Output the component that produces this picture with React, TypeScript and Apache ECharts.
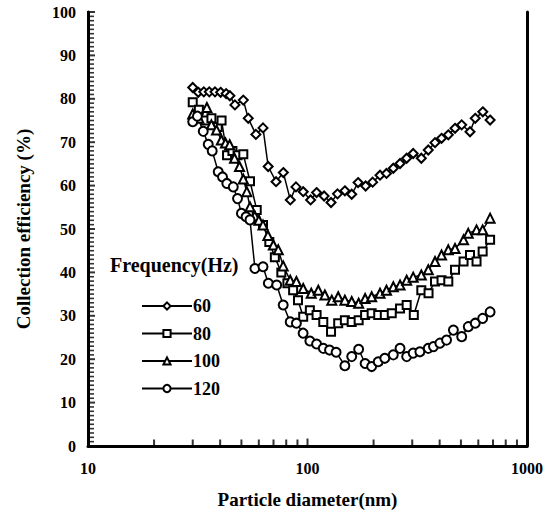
import React, { useEffect, useRef } from "react";
import * as echarts from "echarts";

const seriesNames = ["60", "80", "100", "120"];

const d60 = [30.0, 31.8, 33.7, 35.7, 37.9, 40.2, 42.6, 44.3, 46.7, 51.0, 53.7, 58.2, 62.7, 66.2, 71.9, 77.6, 83.5, 88.6, 95.6, 103.3, 110, 119, 128, 137, 148, 159, 170, 184, 198, 214, 229, 246, 264, 283, 303, 330, 355, 381, 408, 438, 470, 504, 550, 581, 629, 679];
const v60 = [82.6, 81.5, 81.6, 81.6, 81.6, 81.5, 81.2, 80.7, 78.6, 79.7, 75.5, 71.8, 73.3, 64.4, 60.9, 63.0, 56.7, 59.7, 58.6, 56.7, 58.4, 57.6, 56.1, 58.1, 58.8, 58.0, 60.7, 59.9, 60.8, 62.4, 62.8, 64.0, 65.1, 66.3, 67.4, 66.3, 68.2, 69.9, 70.9, 71.7, 73.2, 74.0, 72.4, 75.5, 77.0, 75.1];

const d80 = [30.0, 32.0, 34.2, 36.5, 39.0, 40.6, 43.0, 45.5, 48.0, 51.0, 54.7, 58.7, 62.7, 67.0, 71.0, 76.0, 81.0, 86.0, 90.5, 95.6, 102.5, 110, 118, 128, 138, 148, 159, 171, 183, 196, 210, 225, 242, 264, 283, 305, 330, 356, 381, 408, 438, 470, 514, 550, 589, 628, 679];
const v80 = [79.2, 77.5, 75.0, 75.5, 73.5, 75.0, 67.0, 68.0, 67.0, 67.2, 61.0, 54.4, 50.9, 47.0, 43.5, 40.0, 37.5, 35.9, 33.6, 29.8, 31.3, 30.2, 28.6, 26.3, 28.3, 29.0, 28.6, 29.0, 30.2, 30.6, 30.2, 30.2, 30.6, 31.7, 32.5, 30.2, 35.9, 35.2, 37.9, 38.2, 37.9, 40.6, 42.5, 44.0, 42.5, 44.8, 47.5];

const d100 = [30.0, 32.0, 34.8, 36.5, 38.5, 40.5, 42.3, 44.2, 46.5, 49.0, 51.0, 52.9, 54.7, 57.5, 60.0, 62.7, 66.0, 69.9, 73.6, 77.5, 83.4, 89.0, 95.6, 104, 112, 120, 129, 138, 148, 159, 171, 183, 196, 214, 229, 246, 264, 283, 303, 330, 355, 381, 408, 438, 470, 514, 540, 589, 628, 679];
const v100 = [76.5, 75.5, 78.0, 74.0, 72.8, 70.5, 69.8, 69.4, 66.3, 64.4, 61.5, 58.6, 55.1, 53.0, 52.0, 50.9, 48.5, 46.3, 45.2, 41.5, 38.2, 37.9, 36.3, 35.2, 35.9, 34.8, 33.6, 34.4, 33.6, 33.3, 32.9, 34.0, 34.4, 35.2, 35.9, 36.7, 37.1, 38.2, 38.9, 39.4, 40.6, 42.5, 44.0, 45.2, 45.5, 47.5, 49.0, 49.8, 49.8, 52.5];

const d120 = [30.0, 31.5, 33.5, 35.3, 36.8, 39.2, 41.0, 42.9, 45.9, 48.0, 50.0, 52.5, 54.7, 57.6, 62.7, 66.3, 72.4, 77.5, 83.4, 89.0, 95.5, 102.5, 110, 118, 126, 135, 148, 159, 171, 183, 196, 210, 225, 246, 264, 283, 303, 325, 355, 375, 401, 430, 462, 504, 540, 581, 628, 679];
const v120 = [74.7, 76.0, 72.5, 69.5, 68.0, 63.2, 62.0, 60.5, 59.7, 57.0, 53.6, 52.8, 52.1, 40.9, 41.3, 37.5, 37.1, 32.5, 28.6, 28.3, 26.0, 24.2, 23.5, 22.5, 22.1, 21.6, 18.5, 20.6, 22.3, 19.0, 18.3, 19.4, 20.2, 21.0, 22.5, 20.6, 21.4, 21.7, 22.5, 22.9, 23.7, 24.4, 26.7, 25.2, 27.5, 28.3, 29.4, 30.9];

const xTickValues = [20, 30, 40, 50, 60, 70, 80, 90, 100, 200, 300, 400, 500, 600, 700, 800, 900];
const yTickValues = [0, 1, 2, 3, 4, 5, 6, 7, 8, 9, 10, 11, 12, 13, 14, 15, 16, 17, 18, 19, 20, 21, 22, 23, 24, 25, 26, 27, 28, 29, 30, 31, 32, 33, 34, 35, 36, 37, 38, 39, 40, 41, 42, 43, 44, 45, 46, 47, 48, 49, 50, 51, 52, 53, 54, 55, 56, 57, 58, 59, 60, 61, 62, 63, 64, 65, 66, 67, 68, 69, 70, 71, 72, 73, 74, 75, 76, 77, 78, 79, 80, 81, 82, 83, 84, 85, 86, 87, 88, 89, 90, 91, 92, 93, 94, 95, 96, 97, 98, 99, 100];

const FONT = "'Liberation Serif', 'Times New Roman', serif";

function pairs(d: number[], v: number[]) {
  return d.map((x, i) => [x, v[i]]);
}

export default function App() {
  const ref = useRef<HTMLDivElement>(null);
  useEffect(() => {
    if (!ref.current) return;
    const chart = echarts.init(ref.current, undefined, { renderer: "svg" });
    const symbols = ["diamond", "rect", "triangle", "circle"];
    const sizes = [9, 8, 9, 9];
    const datas = [pairs(d60, v60), pairs(d80, v80), pairs(d100, v100), pairs(d120, v120)];
    const lineSeries = seriesNames.map((name, i) => ({
      name,
      type: "line",
      data: datas[i],
      symbol: symbols[i],
      symbolSize: sizes[i],
      showAllSymbol: true,
      lineStyle: { color: "#000", width: 1.5 },
      itemStyle: { color: "#fff", borderColor: "#000", borderWidth: 2 },
      z: 3,
    }));
    chart.setOption({
      animation: false,
      backgroundColor: "#fff",
      grid: { left: 88, right: 26, top: 12, bottom: 76, containLabel: false },
      title: {
        text: "Frequency(Hz)",
        left: 105,
        top: 250,
        textStyle: { fontFamily: FONT, fontWeight: "bold", fontSize: 20, color: "#000" },
      },
      legend: {
        data: seriesNames,
        orient: "vertical",
        left: 136,
        top: 292,
        itemWidth: 50,
        itemHeight: 9,
        itemGap: 9.5,
        textStyle: { fontFamily: FONT, fontWeight: "bold", fontSize: 18, color: "#000", padding: [0, 0, 0, -4] },
      },
      xAxis: {
        type: "log",
        logBase: 10,
        min: 10,
        max: 1000,
        name: "Particle diameter(nm)",
        nameLocation: "middle",
        nameGap: 44,
        nameTextStyle: { fontFamily: FONT, fontWeight: "bold", fontSize: 19, color: "#000" },
        axisLine: { show: true, onZero: false, lineStyle: { color: "#000", width: 3 } },
        axisTick: { show: false },
        axisLabel: {
          fontFamily: FONT, fontWeight: "bold", fontSize: 16, color: "#000", margin: 14,
          formatter: (v: number) => String(Math.round(v)),
        },
        splitLine: { show: false },
      },
      yAxis: [
        {
          type: "value",
          min: 0,
          max: 100,
          interval: 10,
          name: "Collection efficiency (%)",
          nameLocation: "middle",
          nameGap: 55,
          nameTextStyle: { fontFamily: FONT, fontWeight: "bold", fontSize: 19, color: "#000" },
          axisLine: { show: true, lineStyle: { color: "#000", width: 3 } },
          axisTick: { show: false },
          axisLabel: { fontFamily: FONT, fontWeight: "bold", fontSize: 16, color: "#000", margin: 12 },
          splitLine: { show: false },
        },
        {
          type: "value",
          min: 0,
          max: 100,
          interval: 10,
          position: "right",
          axisLine: { show: true, lineStyle: { color: "#000", width: 3 } },
          axisTick: { show: false },
          axisLabel: { show: false },
          splitLine: { show: false },
        },
      ],
      series: [
        ...lineSeries,
        {
          name: "yTicks",
          type: "scatter",
          data: yTickValues.map((v) => [10, v]),
          symbol: "rect",
          symbolSize: (val: number[]) => (val[1] % 10 === 0 ? [8, 2] : [6, 1.6]),
          symbolOffset: [3, 0],
          itemStyle: { color: "#000" },
          silent: true,
          clip: false,
          z: 5,
        },
        {
          name: "xTicks",
          type: "scatter",
          data: xTickValues.map((x) => [x, 0]),
          symbol: "rect",
          symbolSize: (val: number[]) => (val[0] === 100 ? [2, 9] : [2, 7]),
          symbolOffset: [0, -3],
          itemStyle: { color: "#000" },
          silent: true,
          clip: false,
          z: 5,
        },
      ],
    });
    return () => chart.dispose();
  }, []);
  return <div ref={ref} style={{ width: 553, height: 522, position: "absolute", left: 0, top: 0 }} />;
}
